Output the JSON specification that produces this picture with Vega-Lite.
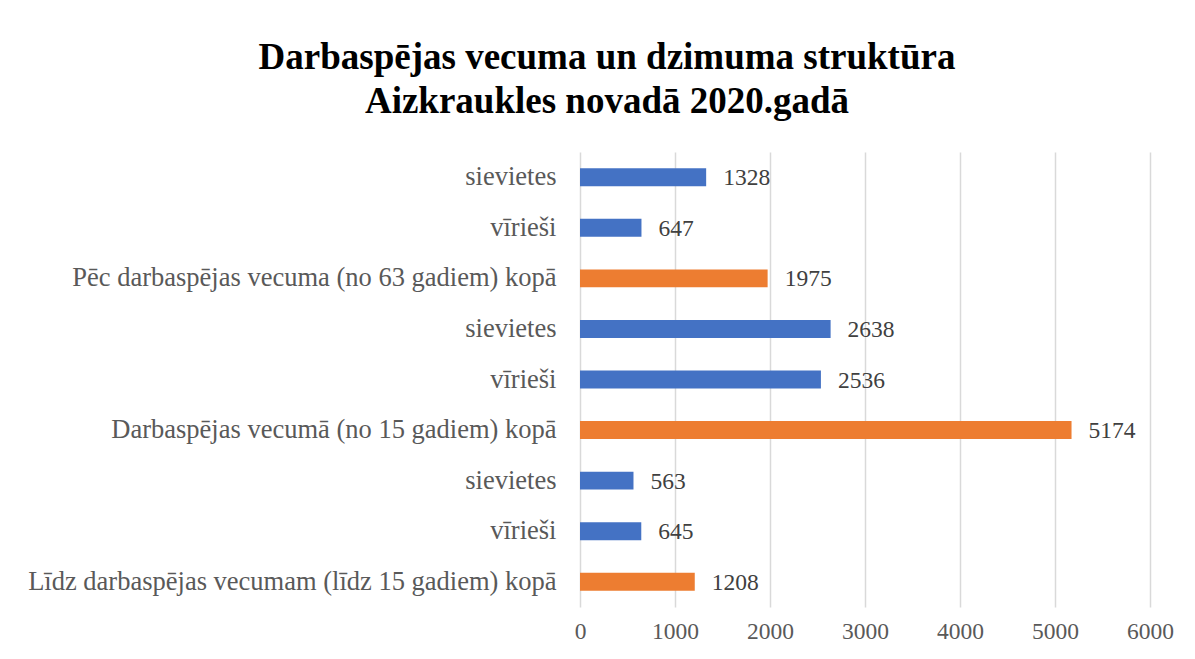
{
  "$schema": "https://vega.github.io/schema/vega-lite/v6.json",
  "autosize": {"type": "none"},
  "width": 570,
  "height": 455,
  "padding": {"left": 580, "top": 152, "right": 45, "bottom": 52},
  "background": "white",
  "title": {
    "text": ["Darbaspējas vecuma un dzimuma struktūra", "Aizkraukles novadā 2020.gadā"],
    "font": "Liberation Serif",
    "fontSize": 37,
    "fontWeight": "bold",
    "color": "#000000",
    "anchor": "middle",
    "frame": "group",
    "dx": -258,
    "lineHeight": 44,
    "offset": 31
  },
  "data": {
    "values": [
      {"id": "1|sievietes", "value": 1328, "kind": "dzimums"},
      {"id": "2|vīrieši", "value": 647, "kind": "dzimums"},
      {"id": "3|Pēc darbaspējas vecuma (no 63 gadiem) kopā", "value": 1975, "kind": "kopā"},
      {"id": "4|sievietes", "value": 2638, "kind": "dzimums"},
      {"id": "5|vīrieši", "value": 2536, "kind": "dzimums"},
      {"id": "6|Darbaspējas vecumā (no 15 gadiem) kopā", "value": 5174, "kind": "kopā"},
      {"id": "7|sievietes", "value": 563, "kind": "dzimums"},
      {"id": "8|vīrieši", "value": 645, "kind": "dzimums"},
      {"id": "9|Līdz darbaspējas vecumam (līdz 15 gadiem) kopā", "value": 1208, "kind": "kopā"}
    ]
  },
  "encoding": {
    "y": {
      "field": "id",
      "type": "nominal",
      "sort": "ascending",
      "scale": {"paddingInner": 0.645, "paddingOuter": 0.3225},
      "axis": {
        "title": null,
        "labelExpr": "split(datum.value, '|')[1]",
        "labelFont": "Liberation Serif",
        "labelFontSize": 26.5,
        "labelColor": "#595959",
        "labelPadding": 24,
        "ticks": false,
        "domain": false,
        "grid": false,
        "labelLimit": 700
      }
    },
    "x": {
      "field": "value",
      "type": "quantitative",
      "scale": {"domain": [0, 6000], "nice": false},
      "axis": {
        "title": null,
        "values": [0, 1000, 2000, 3000, 4000, 5000, 6000],
        "format": "d",
        "labelFont": "Liberation Serif",
        "labelFontSize": 23.5,
        "labelColor": "#595959",
        "labelPadding": 12,
        "ticks": false,
        "domain": false,
        "grid": true,
        "gridColor": "#d9d9d9",
        "gridWidth": 1.5,
        "labelFlush": false
      }
    }
  },
  "layer": [
    {
      "mark": {"type": "bar"},
      "encoding": {
        "color": {
          "field": "kind",
          "type": "nominal",
          "scale": {"domain": ["dzimums", "kopā"], "range": ["#4472C4", "#ED7D31"]},
          "legend": null
        }
      }
    },
    {
      "mark": {
        "type": "text",
        "align": "left",
        "baseline": "middle",
        "dx": 17,
        "dy": 1,
        "font": "Liberation Serif",
        "fontSize": 23.5,
        "color": "#404040"
      },
      "encoding": {
        "text": {"field": "value", "type": "quantitative", "format": "d"}
      }
    }
  ],
  "config": {
    "view": {"stroke": null}
  }
}
